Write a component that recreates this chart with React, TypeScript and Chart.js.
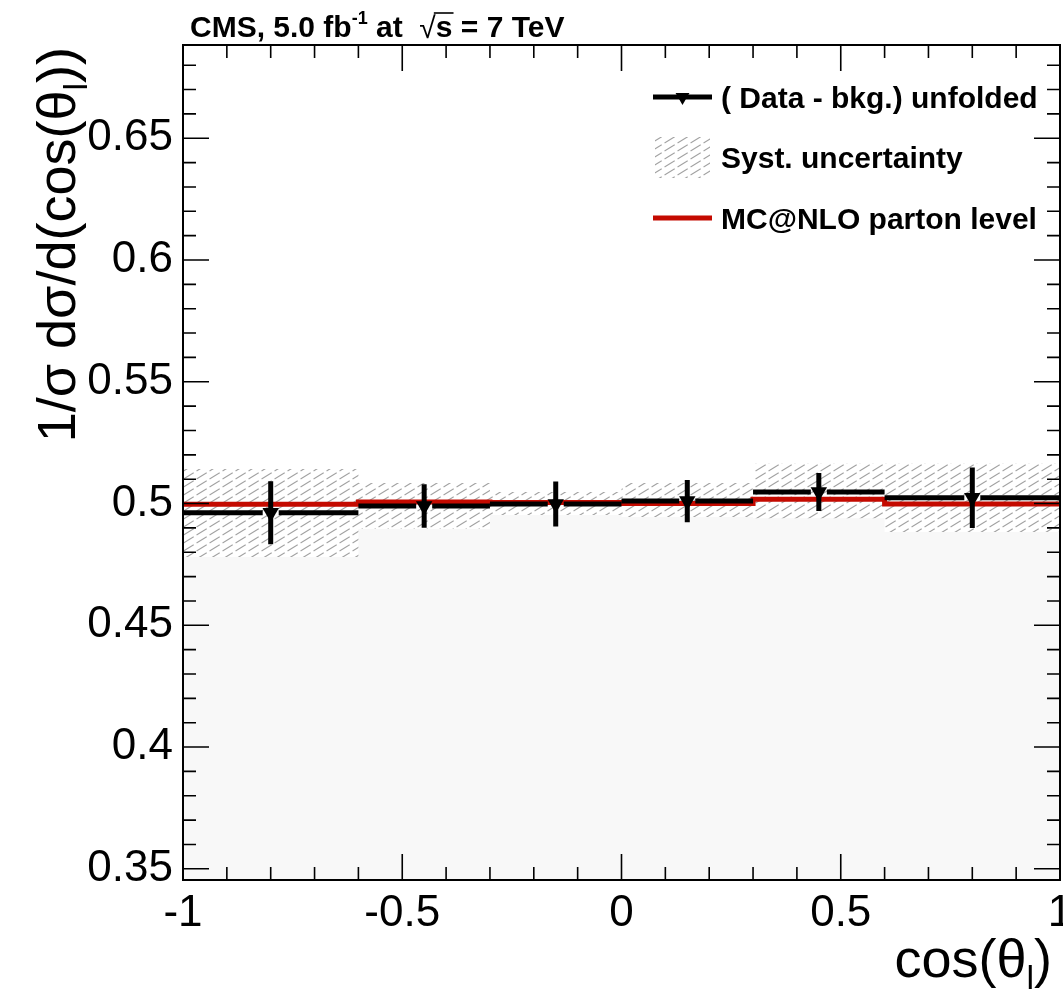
import React, { useEffect, useRef } from 'react';
import { Chart, registerables } from 'chart.js';

Chart.register(...registerables);

// ---------- data ----------
const binEdges = [-1, -0.6, -0.3, 0, 0.3, 0.6, 1];
const binCenters = [-0.8, -0.45, -0.15, 0.15, 0.45, 0.8];
const dataValues = [0.4962, 0.499, 0.4998, 0.501, 0.5047, 0.5024];
const statErr = [0.0129, 0.0089, 0.0092, 0.0087, 0.0078, 0.0124];
const systLow = [0.478, 0.4895, 0.4953, 0.4945, 0.494, 0.4883];
const systHigh = [0.5142, 0.5084, 0.5047, 0.5084, 0.5166, 0.5166];
const mcValues = [0.4997, 0.5006, 0.5004, 0.5, 0.5018, 0.4998];

const xTickValues = [-1, -0.5, 0, 0.5, 1];
const xTickLabels = ['-1', '-0.5', '0', '0.5', '1'];
const yTickValues = [0.35, 0.4, 0.45, 0.5, 0.55, 0.6, 0.65];
const yTickLabels = ['0.35', '0.4', '0.45', '0.5', '0.55', '0.6', '0.65'];
const xMin = -1;
const xMax = 1;
const yMin = 0.3454;
const yMax = 0.6883;

const legendLabels = ['( Data - bkg.) unfolded', 'Syst. uncertainty', 'MC@NLO parton level'];
const titleText = { a: 'CMS, 5.0 fb', sup: '-1', b: ' at  ', sqrt: '\u221A', s: 's', c: ' = 7 TeV' };
const xTitle = { a: 'cos(\u03B8', sub: 'l', b: ')' };
const yTitle = { a: '1/\u03C3 d\u03C3/d(cos(\u03B8', sub: 'l', b: '))' };

const FONT = "'Liberation Sans', Arial, Helvetica, sans-serif";
const RED = '#c40a00';

function makeHatch(): CanvasPattern {
  const c = document.createElement('canvas');
  const W = 13;
  const H = 8;
  c.width = W;
  c.height = H;
  const g = c.getContext('2d')!;
  g.strokeStyle = '#a2a2a2';
  g.lineWidth = 1.1;
  g.beginPath();
  const t0 = 0.12;
  const t1 = 0.9;
  g.moveTo(W * t0, H - H * t0);
  g.lineTo(W * t1, H - H * t1);
  g.stroke();
  return g.createPattern(c, 'repeat')!;
}

type Part = { t: string; font: string; dy?: number };

function partsWidth(ctx: CanvasRenderingContext2D, parts: Part[]) {
  let w = 0;
  for (const p of parts) {
    ctx.font = p.font;
    w += ctx.measureText(p.t).width;
  }
  return w;
}

function drawParts(ctx: CanvasRenderingContext2D, parts: Part[], x: number, y: number) {
  let cx = x;
  ctx.textAlign = 'left';
  ctx.textBaseline = 'alphabetic';
  for (const p of parts) {
    ctx.font = p.font;
    ctx.fillText(p.t, cx, y + (p.dy || 0));
    cx += ctx.measureText(p.t).width;
  }
  return cx;
}

export default function App() {
  const ref = useRef<HTMLCanvasElement>(null);

  useEffect(() => {
    const canvas = ref.current!;
    const hatch = makeHatch();
    const stepPts = (vals: number[]) =>
      binEdges.map((e, i) => ({ x: e, y: vals[Math.min(i, vals.length - 1)] }));

    const errorBars = {
      id: 'errorBars',
      beforeDatasetDraw(chart: any, args: any) {
        if (args.index !== 3) return;
        const { ctx, chartArea, scales } = chart;
        const x = scales.x;
        const y = scales.y;
        ctx.save();
        ctx.beginPath();
        ctx.rect(chartArea.left, chartArea.top, chartArea.right - chartArea.left, chartArea.bottom - chartArea.top);
        ctx.clip();
        ctx.strokeStyle = '#000';
        ctx.lineWidth = 5;
        ctx.lineCap = 'butt';
        const gap = 8;
        binCenters.forEach((c, i) => {
          const xc = x.getPixelForValue(c);
          const xl = x.getPixelForValue(binEdges[i]);
          const xr = x.getPixelForValue(binEdges[i + 1]);
          const yv = y.getPixelForValue(dataValues[i]);
          ctx.beginPath();
          ctx.moveTo(xl, yv);
          ctx.lineTo(xc - gap, yv);
          ctx.moveTo(xc + gap, yv);
          ctx.lineTo(xr, yv);
          ctx.moveTo(xc, y.getPixelForValue(dataValues[i] + statErr[i]));
          ctx.lineTo(xc, y.getPixelForValue(dataValues[i] - statErr[i]));
          ctx.stroke();
        });
        ctx.restore();
      },
    };

    const frame = {
      id: 'frame',
      afterDatasetsDraw(chart: any) {
        const { ctx, chartArea, scales } = chart;
        const x = scales.x;
        const y = scales.y;
        const { left, right, top, bottom } = chartArea;
        ctx.save();
        ctx.strokeStyle = '#000';
        ctx.lineWidth = 1.6;
        ctx.beginPath();
        for (let k = -10; k <= 10; k++) {
          const px = x.getPixelForValue(k / 10);
          const len = k % 5 === 0 ? 26 : 13;
          ctx.moveTo(px, bottom);
          ctx.lineTo(px, bottom - len);
          ctx.moveTo(px, top);
          ctx.lineTo(px, top + len);
        }
        for (let k = 30; k <= 70; k++) {
          const v = k / 100;
          if (v < yMin || v > yMax) continue;
          const py = y.getPixelForValue(v);
          const len = k % 5 === 0 ? 26 : 13;
          ctx.moveTo(left, py);
          ctx.lineTo(left + len, py);
          ctx.moveTo(right, py);
          ctx.lineTo(right - len, py);
        }
        ctx.stroke();
        ctx.lineWidth = 2;
        ctx.strokeRect(left, top, right - left, bottom - top);

        // x tick labels, placed through the x scale
        ctx.fillStyle = '#000';
        ctx.font = `44px ${FONT}`;
        ctx.textAlign = 'center';
        ctx.textBaseline = 'middle';
        xTickValues.forEach((v, i) => {
          ctx.fillText(xTickLabels[i], x.getPixelForValue(v), bottom + 34);
        });
        ctx.restore();
      },
    };

    const texts = {
      id: 'texts',
      afterDraw(chart: any) {
        const ctx: CanvasRenderingContext2D = chart.ctx;
        ctx.save();
        ctx.fillStyle = '#000';
        ctx.strokeStyle = '#000';

        // title
        const bold30 = `bold 30px ${FONT}`;
        let cx = drawParts(ctx, [{ t: titleText.a, font: bold30 }], 190, 37);
        cx = drawParts(ctx, [{ t: titleText.sup, font: `bold 18px ${FONT}`, dy: -13 }], cx, 37);
        cx = drawParts(ctx, [{ t: titleText.b, font: bold30 }], cx, 37);
        cx = drawParts(ctx, [{ t: titleText.sqrt, font: `30px ${FONT}` }], cx, 38);
        const sStart = cx;
        cx = drawParts(ctx, [{ t: titleText.s, font: bold30 }], cx, 37);
        ctx.lineWidth = 1.6;
        ctx.beginPath();
        ctx.moveTo(sStart - 2, 13);
        ctx.lineTo(cx + 1, 13);
        ctx.stroke();
        drawParts(ctx, [{ t: titleText.c, font: bold30 }], cx, 37);

        // x title
        const big = `54px ${FONT}`;
        const sub = `34px ${FONT}`;
        const xParts: Part[] = [
          { t: xTitle.a, font: big },
          { t: xTitle.sub, font: sub, dy: 12 },
          { t: xTitle.b, font: big },
        ];
        const xw = partsWidth(ctx, xParts);
        drawParts(ctx, xParts, 1052 - xw, 977);

        // y title
        const yParts: Part[] = [
          { t: yTitle.a, font: big },
          { t: yTitle.sub, font: sub, dy: 12 },
          { t: yTitle.b, font: big },
        ];
        const yw = partsWidth(ctx, yParts);
        ctx.save();
        ctx.translate(75, 47);
        ctx.rotate(-Math.PI / 2);
        drawParts(ctx, yParts, -yw, 0);
        ctx.restore();

        // legend
        const rows = [97, 157, 218];
        const x0 = 653;
        const x1 = 712;
        ctx.lineWidth = 5;
        ctx.strokeStyle = '#000';
        ctx.beginPath();
        ctx.moveTo(x0, rows[0]);
        ctx.lineTo(x1, rows[0]);
        ctx.stroke();
        const mx = (x0 + x1) / 2;
        const r = 8;
        ctx.fillStyle = '#000';
        ctx.beginPath();
        ctx.moveTo(mx - r * 0.866, rows[0] - r * 0.5);
        ctx.lineTo(mx + r * 0.866, rows[0] - r * 0.5);
        ctx.lineTo(mx, rows[0] + r);
        ctx.closePath();
        ctx.fill();
        ctx.fillStyle = hatch;
        ctx.fillRect(655, rows[1] - 20, 55, 41);
        ctx.strokeStyle = RED;
        ctx.beginPath();
        ctx.moveTo(x0, rows[2]);
        ctx.lineTo(x1, rows[2]);
        ctx.stroke();
        ctx.fillStyle = '#000';
        legendLabels.forEach((lab, i) => {
          drawParts(ctx, [{ t: lab, font: bold30 }], 721, rows[i] + 11);
        });
        ctx.restore();
      },
    };

    const chart = new Chart(canvas, {
      type: 'line',
      data: {
        datasets: [
          {
            label: 'systLow',
            data: stepPts(systLow),
            stepped: true,
            borderWidth: 0,
            borderColor: 'rgba(0,0,0,0)',
            pointRadius: 0,
            fill: 'start',
            backgroundColor: '#f8f8f8',
            order: 4,
          },
          {
            label: 'systHigh',
            data: stepPts(systHigh),
            stepped: true,
            borderWidth: 0,
            borderColor: 'rgba(0,0,0,0)',
            pointRadius: 0,
            fill: '-1',
            backgroundColor: hatch as any,
            order: 3,
          },
          {
            label: 'MC@NLO',
            data: stepPts(mcValues),
            stepped: true,
            borderWidth: 5,
            borderColor: RED,
            borderCapStyle: 'butt',
            pointRadius: 0,
            fill: false,
            order: 2,
          },
          {
            label: 'Data',
            data: binCenters.map((c, i) => ({ x: c, y: dataValues[i] })),
            showLine: false,
            pointStyle: 'triangle',
            rotation: 180,
            pointRadius: 9.5,
            pointBackgroundColor: '#000',
            pointBorderWidth: 0,
            borderColor: '#000',
            fill: false,
            order: 1,
          } as any,
        ],
      },
      options: {
        responsive: false,
        devicePixelRatio: 1,
        animation: false,
        events: [],
        layout: { autoPadding: false, padding: { left: 0, right: 3, top: 45, bottom: 0 } },
        plugins: { legend: { display: false }, tooltip: { enabled: false }, title: { display: false } },
        scales: {
          x: {
            type: 'linear',
            min: xMin,
            max: xMax,
            grid: { display: false, drawTicks: false },
            border: { display: false },
            afterBuildTicks: (s: any) => {
              s.ticks = xTickValues.map((v) => ({ value: v }));
            },
            afterFit: (s: any) => {
              s.height = 115;
              s.paddingLeft = 0;
              s.paddingRight = 0;
            },
            ticks: { display: false, autoSkip: false },
          },
          y: {
            type: 'linear',
            min: yMin,
            max: yMax,
            grid: { display: false, drawTicks: false },
            border: { display: false },
            afterBuildTicks: (s: any) => {
              s.ticks = yTickValues.map((v) => ({ value: v }));
            },
            afterFit: (s: any) => {
              s.width = 183;
              s.paddingTop = 0;
              s.paddingBottom = 0;
            },
            ticks: {
              autoSkip: false,
              padding: 10,
              color: '#000',
              font: { family: FONT, size: 44 },
              callback: (v: any) => yTickLabels[yTickValues.indexOf(Number(v))] ?? '',
            },
          },
        },
      },
      plugins: [errorBars, frame, texts],
    } as any);

    return () => chart.destroy();
  }, []);

  return (
    <div style={{ position: 'absolute', left: 0, top: 0, width: 1063, height: 995, background: '#fff' }}>
      <canvas ref={ref} width={1063} height={995} style={{ display: 'block' }} />
    </div>
  );
}
